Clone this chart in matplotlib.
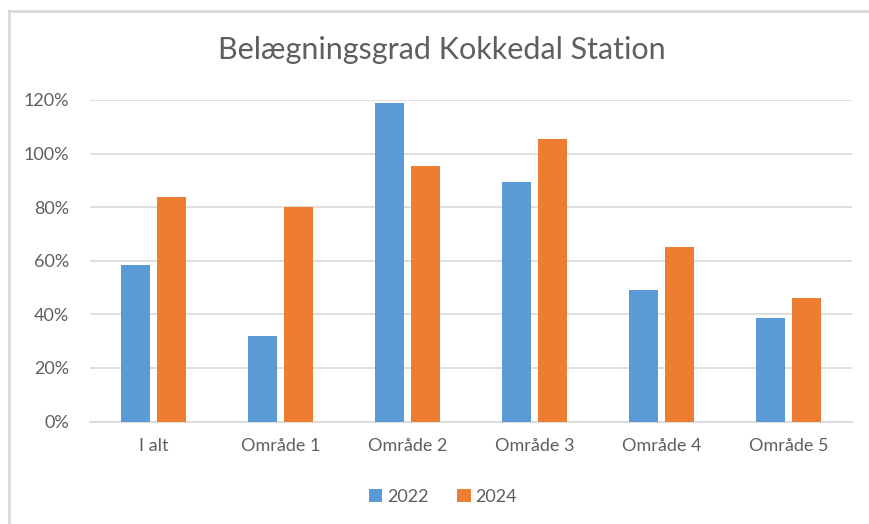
import numpy as np
import matplotlib.pyplot as plt
from matplotlib.lines import Line2D
from matplotlib.ticker import PercentFormatter

categories = ['I alt', 'Område 1', 'Område 2', 'Område 3', 'Område 4', 'Område 5']
years = ['2022', '2024']
values_2022 = [58.4, 31.9, 119.0, 89.3, 49.0, 38.7]
values_2024 = [83.9, 80.0, 95.4, 105.4, 65.0, 46.2]
yticks = [0, 20, 40, 60, 80, 100, 120]

blue = '#5b9bd5'
orange = '#ed7d31'
grid = '#d9d9d9'
text = '#5f5f5f'

plt.rcParams['font.family'] = ['Lato', 'DejaVu Sans']

fig = plt.figure(figsize=(8.69, 5.24), dpi=100)
ax = fig.add_axes([90 / 869, 102.5 / 524, 762 / 869, 321.5 / 524])

x = np.arange(len(categories))
w = 0.225
off = 0.141
ax.bar(x - off, values_2022, w, color=blue, label=years[0], zorder=3)
ax.bar(x + off, values_2024, w, color=orange, label=years[1], zorder=3)

ax.set_xlim(-0.5, len(categories) - 0.5)
ax.set_ylim(0, 120)
ax.set_yticks(yticks)
ax.yaxis.set_major_formatter(PercentFormatter(decimals=0))
ax.set_xticks(x)
ax.set_xticklabels(categories)
ax.grid(axis='y', color=grid, linewidth=1.2, zorder=0)
ax.tick_params(axis='both', length=0, colors=text, labelsize=13)
ax.tick_params(axis='y', pad=15)
ax.tick_params(axis='x', pad=12)
for s in ['top', 'right', 'left']:
    ax.spines[s].set_visible(False)
ax.spines['bottom'].set_color(grid)
ax.spines['bottom'].set_linewidth(1.2)

fig.text(441.5 / 869, 1 - 50 / 524, 'Belægningsgrad Kokkedal Station',
         ha='center', va='center', fontsize=22, color=text)

fig.legend(loc='center', bbox_to_anchor=(443 / 869, 1 - 497 / 524), ncol=2,
           frameon=False, fontsize=13, labelcolor=text, handlelength=0.75,
           handleheight=0.75, handletextpad=0.25, columnspacing=1.6)

# chart frame (left and top edges only)
fig.add_artist(Line2D([8.5 / 869, 8.5 / 869], [0, 1 - 10.5 / 524], color=grid, lw=2))
fig.add_artist(Line2D([8.5 / 869, 1], [1 - 10.5 / 524, 1 - 10.5 / 524], color=grid, lw=2))

fig.savefig('out.png', dpi=100)
